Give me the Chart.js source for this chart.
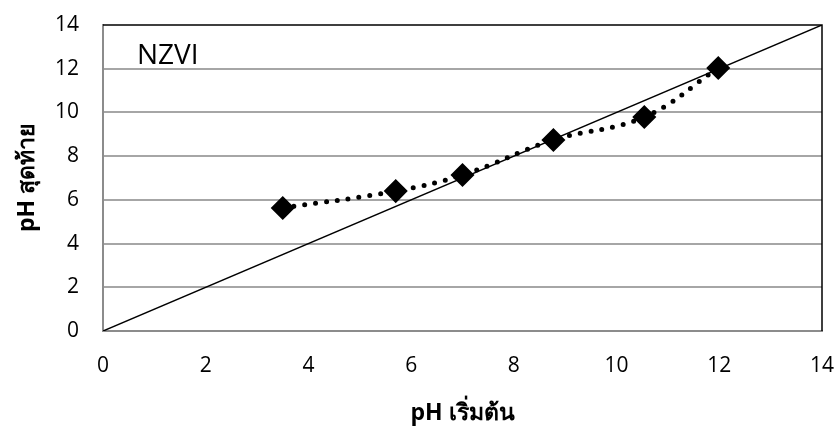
<!DOCTYPE html>
<html>
<head>
<meta charset="utf-8">
<script src="https://cdn.jsdelivr.net/npm/chart.js@4.4.1/dist/chart.umd.min.js"></script>
<style>
  html, body { margin: 0; padding: 0; background: #fff; }
  #wrap { width: 837px; height: 431px; }
</style>
</head>
<body>
<div id="wrap"><canvas id="phChart"></canvas></div>
<script>
// ===== pH เริ่มต้น vs pH สุดท้าย (NZVI) =====

// ค่าที่วัดได้
const phInitial = [3.5, 5.7, 7.0, 8.77, 10.54, 11.98];
const phFinal   = [5.63, 6.4, 7.14, 8.74, 9.79, 12.03];

// เส้นอ้างอิง y = x
const refX = [0, 14];
const refY = [0, 14];

const axisMin = 0;
const axisMax = 14;
const axisStep = 2;

const seriesLabel = "NZVI";
const xTitle = "pH เริ่มต้น";
const yTitle = "pH สุดท้าย";

const FONT = "'Open Sans', 'Noto Sans', sans-serif";

function toPoints(xs, ys) {
  return xs.map((x, i) => ({ x, y: ys[i] }));
}

// กรอบด้านบน/ขวาสีดำ + ข้อความ NZVI
const framePlugin = {
  id: "frame",
  afterDatasetsDraw(chart) {
    const { ctx, chartArea: a } = chart;
    ctx.save();
    ctx.strokeStyle = "#000";
    ctx.lineWidth = 1.5;
    ctx.beginPath();
    ctx.moveTo(a.left, a.top);
    ctx.lineTo(a.right, a.top);
    ctx.lineTo(a.right, a.bottom);
    ctx.stroke();

    ctx.fillStyle = "#000";
    ctx.font = "28px " + FONT;
    ctx.textBaseline = "alphabetic";
    ctx.textAlign = "left";
    ctx.fillText(seriesLabel, 137, 64);
    ctx.restore();
  },
};

new Chart(document.getElementById("phChart"), {
  type: "scatter",
  data: {
    datasets: [
      {
        label: "y = x",
        data: toPoints(refX, refY),
        showLine: true,
        borderColor: "#000",
        borderWidth: 1.5,
        pointRadius: 0,
        order: 2,
      },
      {
        label: seriesLabel,
        data: toPoints(phInitial, phFinal),
        showLine: true,
        tension: 0.4,
        borderColor: "#000",
        borderWidth: 5,
        borderCapStyle: "round",
        borderDash: [0, 11],
        pointStyle: "rectRot",
        pointRadius: 8.5,
        pointBackgroundColor: "#000",
        pointBorderColor: "#000",
        order: 1,
      },
    ],
  },
  options: {
    responsive: true,
    maintainAspectRatio: false,
    animation: false,
    layout: { padding: { top: 25, right: 15, left: 0, bottom: 0 } },
    plugins: {
      legend: { display: false },
      tooltip: { enabled: false },
    },
    scales: {
      x: {
        min: axisMin,
        max: axisMax,
        ticks: {
          stepSize: axisStep,
          color: "#000",
          padding: 22,
          font: { family: FONT, size: 21 },
        },
        grid: { display: false, drawTicks: false },
        border: { color: "#8c8c8c", width: 2 },
        title: {
          display: true,
          text: xTitle,
          color: "#000",
          font: { family: FONT, size: 23, weight: "bold" },
          padding: { top: 8 },
        },
        afterFit: (scale) => {
          scale.height = 100;
          scale.paddingLeft = 0;
          scale.paddingRight = 0;
        },
      },
      y: {
        min: axisMin,
        max: axisMax,
        ticks: {
          stepSize: axisStep,
          color: "#000",
          padding: 24,
          font: { family: FONT, size: 21 },
        },
        grid: {
          color: (c) => (c.tick && c.tick.value === axisMax ? "rgba(0,0,0,0)" : "#a6a6a6"),
          lineWidth: 2,
          drawTicks: false,
        },
        border: { color: "#8c8c8c", width: 2 },
        title: {
          display: true,
          text: yTitle,
          color: "#000",
          font: { family: FONT, size: 23, weight: "bold" },
          padding: { top: 14, bottom: 0 },
        },
        afterFit: (scale) => {
          scale.width = 103;
          scale.paddingTop = 0;
          scale.paddingBottom = 0;
        },
      },
    },
  },
  plugins: [framePlugin],
});
</script>
</body>
</html>
